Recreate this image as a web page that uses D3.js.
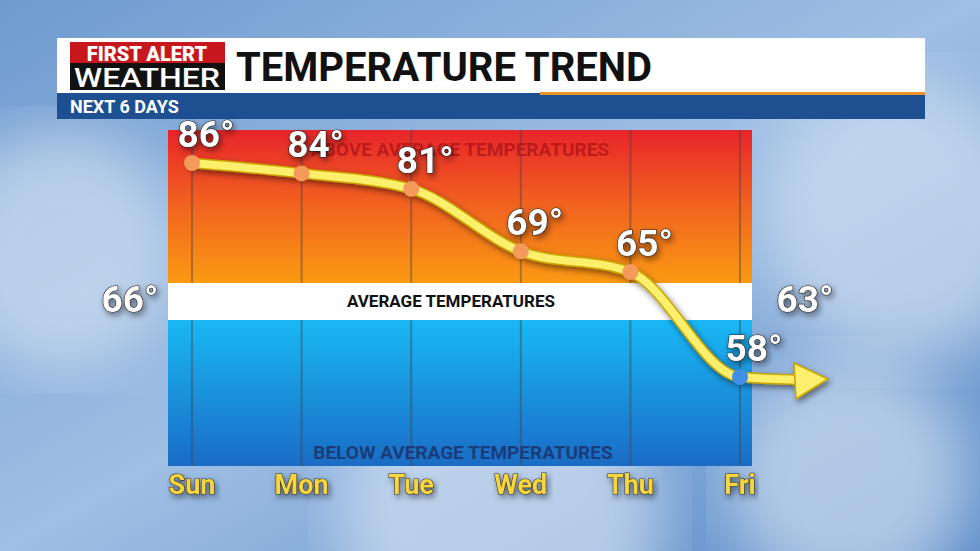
<!DOCTYPE html>
<html><head><meta charset="utf-8">
<script src="https://cdn.jsdelivr.net/npm/d3@7"></script>
<style>body{margin:0;overflow:hidden}svg{display:block}</style>
</head><body>
<svg id="viz" width="980" height="551"></svg>
<script>
const days = ["Sun", "Mon", "Tue", "Wed", "Thu", "Fri"];
const temps = [86, 84, 81, 69, 65, 58];
const avgHigh = 66, avgLow = 63;
const font = "Roboto, 'DejaVu Sans', sans-serif";

const svg = d3.select("#viz");
const defs = svg.append("defs");

// 空の背景
const sky = defs.append("linearGradient").attr("id", "sky").attr("x1", 0).attr("y1", 0).attr("x2", 1).attr("y2", 1);
sky.append("stop").attr("offset", 0).attr("stop-color", "#6f9bd0");
sky.append("stop").attr("offset", 0.5).attr("stop-color", "#9fbfe4");
sky.append("stop").attr("offset", 1).attr("stop-color", "#5d8cc8");
svg.append("rect").attr("width", 980).attr("height", 551).attr("fill", "url(#sky)");
defs.append("filter").attr("id", "blur").append("feGaussianBlur").attr("stdDeviation", 30);
[[60, 250, 120], [900, 220, 140], [500, 520, 160], [850, 480, 120]].forEach(([cx, cy, r]) =>
  svg.append("circle").attr("cx", cx).attr("cy", cy).attr("r", r).attr("fill", "#dde8f5").attr("opacity", 0.6).attr("filter", "url(#blur)"));

// ヘッダー
svg.append("rect").attr("x", 57).attr("y", 38).attr("width", 868).attr("height", 56).attr("fill", "#fff");
svg.append("rect").attr("x", 57).attr("y", 93).attr("width", 868).attr("height", 26).attr("fill", "#1d4f91");
svg.append("rect").attr("x", 540).attr("y", 92).attr("width", 385).attr("height", 3).attr("fill", "#e8962a");
svg.append("rect").attr("x", 70).attr("y", 42).attr("width", 155).attr("height", 22).attr("fill", "#c8161d");
svg.append("rect").attr("x", 70).attr("y", 63).attr("width", 155).attr("height", 27).attr("fill", "#111");
svg.append("text").attr("x", 147).attr("y", 61).attr("text-anchor", "middle").attr("fill", "#fff")
  .style("font", `900 20px ${font}`).text("FIRST ALERT");
svg.append("text").attr("x", 147).attr("y", 87).attr("text-anchor", "middle").attr("fill", "#fff")
  .style("font", `500 26px ${font}`).attr("textLength", 146).attr("lengthAdjust", "spacingAndGlyphs").text("WEATHER");
svg.append("text").attr("x", 236).attr("y", 81).attr("fill", "#111")
  .style("font", `700 40px ${font}`).text("TEMPERATURE TREND");
svg.append("text").attr("x", 70).attr("y", 113).attr("fill", "#fff")
  .style("font", `700 18px ${font}`).text("NEXT 6 DAYS");

// チャート枠
const x = d3.scalePoint().domain(days).range([192, 740]);
const y = d3.scaleLinear().domain([58, 65, 86]).range([377, 272, 163]);
const yTop = 130, bandTop = 283, bandBot = 320, yBot = 466, xLeft = 168, xRight = 752;

const warm = defs.append("linearGradient").attr("id", "warm").attr("x1", 0).attr("y1", 0).attr("x2", 0).attr("y2", 1);
warm.append("stop").attr("offset", 0).attr("stop-color", "#e8242a");
warm.append("stop").attr("offset", 0.5).attr("stop-color", "#f2641f");
warm.append("stop").attr("offset", 1).attr("stop-color", "#fb9a12");
const cold = defs.append("linearGradient").attr("id", "cold").attr("x1", 0).attr("y1", 0).attr("x2", 0).attr("y2", 1);
cold.append("stop").attr("offset", 0).attr("stop-color", "#19b8f5");
cold.append("stop").attr("offset", 1).attr("stop-color", "#1a6cc4");

svg.append("rect").attr("x", xLeft).attr("y", yTop).attr("width", xRight - xLeft).attr("height", bandTop - yTop).attr("fill", "url(#warm)");
svg.append("rect").attr("x", xLeft).attr("y", bandBot).attr("width", xRight - xLeft).attr("height", yBot - bandBot).attr("fill", "url(#cold)");
svg.append("rect").attr("x", xLeft).attr("y", bandTop).attr("width", xRight - xLeft).attr("height", bandBot - bandTop).attr("fill", "#fff");

[[yTop, bandTop], [bandBot, yBot]].forEach(([a, b]) =>
  svg.append("g").selectAll("line").data(days).join("line")
    .attr("x1", d => x(d)).attr("x2", d => x(d)).attr("y1", a).attr("y2", b)
    .attr("stroke", "#444").attr("stroke-opacity", 0.45).attr("stroke-width", 2));

svg.append("text").attr("x", 460).attr("y", 156).attr("text-anchor", "middle").attr("fill", "#b0141a").attr("fill-opacity", 0.8)
  .style("font", `700 19px ${font}`).text("ABOVE AVERAGE TEMPERATURES");
svg.append("text").attr("x", 451).attr("y", 307).attr("text-anchor", "middle").attr("fill", "#111")
  .style("font", `700 17px ${font}`).text("AVERAGE TEMPERATURES");
svg.append("text").attr("x", 463).attr("y", 459).attr("text-anchor", "middle").attr("fill", "#1a3c7a")
  .style("font", `700 19px ${font}`).text("BELOW AVERAGE TEMPERATURES");

// トレンドライン
const pts = days.map((d, i) => [x(d), y(temps[i])]);
const arrowEnd = [808, 380];
const line = d3.line().curve(d3.curveMonotoneX);
const path = line(pts.concat([arrowEnd]));
const shadow = defs.append("filter").attr("id", "sh");
shadow.append("feDropShadow").attr("dx", 2).attr("dy", 3).attr("stdDeviation", 3).attr("flood-opacity", 0.5);
const g = svg.append("g").attr("filter", "url(#sh)");
g.append("path").attr("d", path).attr("fill", "none").attr("stroke", "#c9a200").attr("stroke-width", 11).attr("stroke-linecap", "round");
g.append("path").attr("d", path).attr("fill", "none").attr("stroke", "#fbef6c").attr("stroke-width", 8).attr("stroke-linecap", "round");
g.append("path").attr("d", `M${arrowEnd[0] - 14},${arrowEnd[1] - 17} L828,${arrowEnd[1] - 1} L${arrowEnd[0] - 12},${arrowEnd[1] + 19} Z`)
  .attr("fill", "#fbef6c").attr("stroke", "#c9a200").attr("stroke-width", 1.5).attr("stroke-linejoin", "round");

svg.append("g").selectAll("circle").data(pts).join("circle")
  .attr("cx", d => d[0]).attr("cy", d => d[1]).attr("r", 8)
  .attr("fill", (d, i) => temps[i] < 63 ? "#3f8fe8" : "#f59a5a");

// ラベル
const label = (tx, ty, s, size) =>
  svg.append("text").attr("x", tx).attr("y", ty).attr("text-anchor", "middle").attr("fill", "#fff")
    .attr("stroke", "#222").attr("stroke-width", 1.2).attr("paint-order", "stroke").attr("filter", "url(#sh)")
    .style("font", `700 ${size}px ${font}`).text(s);
temps.forEach((t, i) => label(pts[i][0] + 14, pts[i][1] - 16, `${t}°`, 37));
label(130, 312, `${avgHigh}°`, 37);
label(805, 312, `${avgLow}°`, 37);

svg.append("g").selectAll("text").data(days).join("text")
  .attr("x", d => x(d)).attr("y", 494).attr("text-anchor", "middle").attr("fill", "#f9d63a")
  .attr("stroke", "#333").attr("stroke-width", 1.2).attr("paint-order", "stroke").attr("filter", "url(#sh)")
  .style("font", `700 27px ${font}`).text(d => d);
</script>
</body></html>
